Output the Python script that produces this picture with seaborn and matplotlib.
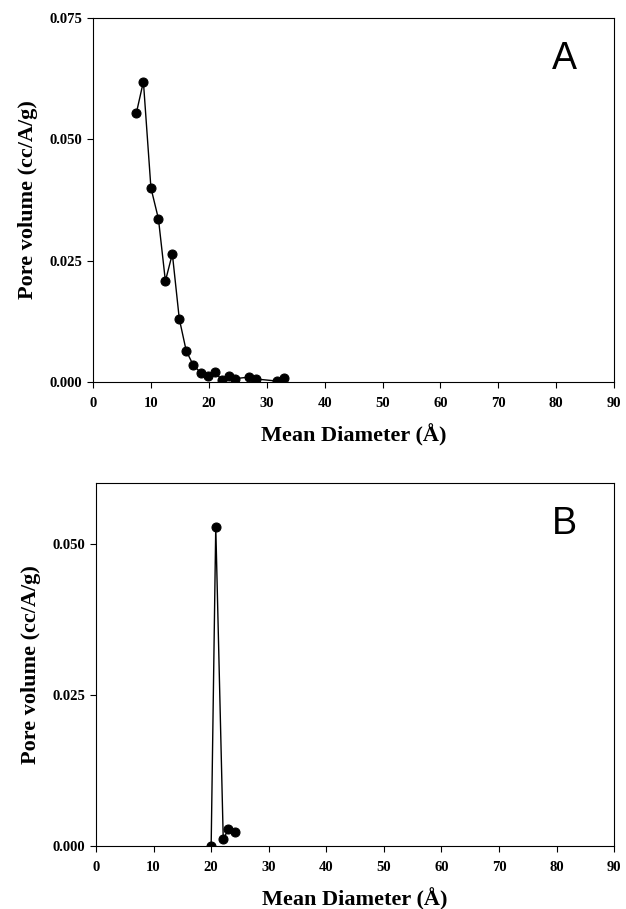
import matplotlib
matplotlib.use("Agg")
import matplotlib.pyplot as plt
import seaborn as sns
import pandas as pd

# Panel A data
diam_a = [7.5, 8.7, 10.0, 11.3, 12.5, 13.7, 14.9, 16.1, 17.3, 18.6, 19.8, 21.0,
          22.2, 23.4, 24.6, 27.0, 28.2, 31.7, 32.9]
vol_a = [0.0555, 0.0619, 0.0400, 0.0336, 0.0208, 0.0264, 0.0130, 0.0064, 0.0035,
         0.0019, 0.0013, 0.0021, 0.0005, 0.0013, 0.0007, 0.0010, 0.0006, 0.0002, 0.0008]

# Panel B data
diam_b = [20.0, 20.8, 22.1, 23.0, 24.2]
vol_b = [0.0000, 0.0528, 0.0011, 0.0028, 0.0023]

xticks = [0, 10, 20, 30, 40, 50, 60, 70, 80, 90]
yticks_a = [0.000, 0.025, 0.050, 0.075]
yticks_b = [0.000, 0.025, 0.050]
xlabel = "Mean Diameter (Å)"
ylabel = "Pore volume (cc/A/g)"

sns.set_style("ticks")
plt.rcParams['font.family'] = ['Liberation Serif', 'DejaVu Serif']
plt.rcParams['font.weight'] = 'bold'
plt.rcParams['text.color'] = 'black'
plt.rcParams['axes.labelcolor'] = 'black'

fig = plt.figure(figsize=(6.26, 9.09), dpi=100)
ax_a = fig.add_axes([0.1486, 0.5798, 0.8324, 0.4004])
ax_b = fig.add_axes([0.1534, 0.0693, 0.8276, 0.3993])

df_a = pd.DataFrame({"d": diam_a, "v": vol_a})
df_b = pd.DataFrame({"d": diam_b, "v": vol_b})

for ax, df, yt, ymax, lab in [(ax_a, df_a, yticks_a, 0.075, "A"),
                              (ax_b, df_b, yticks_b, 0.060, "B")]:
    sns.lineplot(data=df, x="d", y="v", ax=ax, sort=False, color="black",
                 linewidth=1.0, marker="o", markersize=6.5,
                 markeredgecolor="black", markerfacecolor="black")
    ax.set_xlim(0, 90)
    ax.set_ylim(0, ymax)
    ax.set_xticks(xticks)
    ax.set_yticks(yt)
    ax.set_yticklabels([f"{v:.3f}" for v in yt])
    ax.tick_params(direction="out", length=4, width=0.8, labelsize=10.5,
                   colors="black")
    ax.tick_params(axis="x", pad=7)
    ax.tick_params(axis="y", pad=4)
    for t in ax.get_xticklabels() + ax.get_yticklabels():
        t.set_fontweight("bold")
    for s in ax.spines.values():
        s.set_visible(True)
        s.set_color("black")
        s.set_linewidth(0.8)
    ax.set_xlabel(xlabel, fontsize=16, fontweight="bold", labelpad=10)
    ax.set_ylabel(ylabel, fontsize=16, fontweight="bold", labelpad=8)
    ax.text(0.904, 0.859, lab, transform=ax.transAxes, ha="center", va="baseline",
            fontsize=27, fontweight="normal", color="black",
            family=["Liberation Sans", "DejaVu Sans"])

fig.savefig("out.png", dpi=100, facecolor="white")
